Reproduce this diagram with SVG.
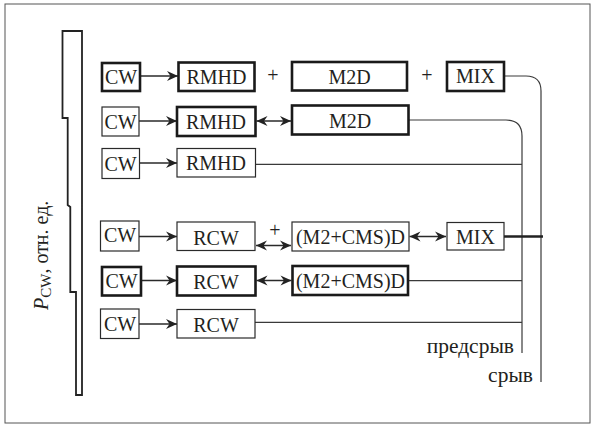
<svg xmlns="http://www.w3.org/2000/svg" width="595" height="426" viewBox="0 0 595 426">
<defs>
<marker id="ah" markerUnits="userSpaceOnUse" viewBox="-12 -6 13 12" refX="0" refY="0" markerWidth="13" markerHeight="12" orient="auto-start-reverse">
<path d="M0,0 L-11,-5 L-7.5,0 L-11,5 Z" fill="#222"/>
</marker>
</defs>
<style>
text{font-family:'Liberation Serif','Times New Roman',serif;font-size:20px;fill:#231f20}
.t{text-anchor:middle}
.lbl{text-anchor:end;font-size:21.5px}
.thin{fill:#fff;stroke:#2a2a2a;stroke-width:1.2}
.thick{fill:#fff;stroke:#1a1a1a;stroke-width:2.6}
.ln{fill:none;stroke:#3a3a3a;stroke-width:1.2}
.ar{fill:none;stroke:#2a2a2a;stroke-width:1.3;marker-end:url(#ah)}
.dar{fill:none;stroke:#2a2a2a;stroke-width:1.3;marker-end:url(#ah);marker-start:url(#ah)}
.plus{text-anchor:middle}
</style>
<rect x="5" y="4" width="585" height="419" fill="#fff" stroke="#555" stroke-width="1"/>

<g id="profile">
<path d="M62.5,31 L82,31 L82,395 L76,395 L76,292 L70.3,292 L70.3,207 L67.7,205 L67.7,118 L62.5,118 Z" fill="none" stroke="#222" stroke-width="1.8"/>
</g>
<g id="axis-label">
<text font-size="21" transform="translate(48,310) rotate(-90)"><tspan font-style="italic">P</tspan><tspan font-size="15" dy="3">CW</tspan><tspan dy="-3">, отн. ед.</tspan></text>
</g>

<g id="connectors">
<line class="ar" x1="140" y1="76" x2="178" y2="76"/>
<line class="ar" x1="139" y1="121" x2="177" y2="121"/>
<line class="ar" x1="140" y1="163" x2="177" y2="163"/>
<line class="ar" x1="139" y1="236.5" x2="177" y2="236.5"/>
<line class="ar" x1="141" y1="280.5" x2="177" y2="280.5"/>
<line class="ar" x1="139" y1="324" x2="177" y2="324"/>
<line class="dar" x1="256.5" y1="121" x2="291" y2="121"/>
<line class="dar" x1="256" y1="245.5" x2="291" y2="245.5"/>
<line class="dar" x1="409.5" y1="236.5" x2="446" y2="236.5"/>
<line class="dar" x1="256.5" y1="280.5" x2="291.5" y2="280.5"/>
<path class="ln" d="M504,76 L526,76 Q541,76 541,91 L541,382"/>
<path class="ln" d="M408.5,120 L506,120 Q522,120 522,136 L522,353"/>
<line class="ln" x1="255.5" y1="164.3" x2="522" y2="164.3"/>
<line class="ln" x1="408.5" y1="280.7" x2="522" y2="280.7"/>
<line class="ln" x1="255" y1="322.3" x2="522" y2="322.3"/>
<line x1="504" y1="236.5" x2="543" y2="236.5" stroke="#222" stroke-width="2.5"/>
</g>

<g id="row1">
<g id="cw1"><rect class="thick" x="102" y="63" width="38" height="28"/><text class="t" x="121" y="84">CW</text></g>
<g id="rmhd1"><rect class="thick" x="178.5" y="62.5" width="76" height="28.5"/><text class="t" x="216.5" y="84">RMHD</text></g>
<text class="plus" x="273" y="82">+</text>
<g id="m2d1"><rect class="thick" x="292" y="62" width="115" height="28.5"/><text class="t" x="349.5" y="83.5">M2D</text></g>
<text class="plus" x="427" y="82">+</text>
<g id="mix1"><rect class="thick" x="447" y="62" width="57" height="29"/><text class="t" x="475.5" y="83">MIX</text></g>
</g>

<g id="row2">
<g id="cw2"><rect class="thin" x="102" y="107" width="37" height="29"/><text class="t" x="120.5" y="129">CW</text></g>
<g id="rmhd2"><rect class="thick" x="177" y="107" width="78.5" height="29"/><text class="t" x="216" y="129">RMHD</text></g>
<g id="m2d2"><rect class="thick" x="292" y="105.5" width="116.5" height="29"/><text class="t" x="350" y="127.5">M2D</text></g>
</g>

<g id="row3">
<g id="cw3"><rect class="thin" x="102" y="148.5" width="37.5" height="30"/><text class="t" x="120.5" y="171">CW</text></g>
<g id="rmhd3"><rect class="thin" x="177" y="148.5" width="78.5" height="28.5"/><text class="t" x="216" y="169.5">RMHD</text></g>
</g>

<g id="row4">
<g id="cw4"><rect class="thin" x="100.5" y="221" width="38.5" height="30"/><text class="t" x="120" y="242">CW</text></g>
<g id="rcw4"><rect class="thin" x="177" y="222" width="78" height="28.5"/><text class="t" x="216" y="245">RCW</text></g>
<text class="plus" x="275" y="237">+</text>
<g id="m2cms4"><rect class="thin" x="292" y="222" width="117" height="29"/><text class="t" x="350.5" y="243.5">(M2+CMS)D</text></g>
<g id="mix4"><rect class="thin" x="447" y="222.5" width="57" height="27.5"/><text class="t" x="475.5" y="243.5">MIX</text></g>
</g>

<g id="row5">
<g id="cw5"><rect class="thick" x="102" y="267" width="39" height="28.5"/><text class="t" x="121.5" y="288">CW</text></g>
<g id="rcw5"><rect class="thick" x="177" y="266.5" width="78.5" height="29"/><text class="t" x="216" y="288.5">RCW</text></g>
<g id="m2cms5"><rect class="thick" x="292.5" y="266" width="115.5" height="29"/><text class="t" x="350.5" y="287.5">(M2+CMS)D</text></g>
</g>

<g id="row6">
<g id="cw6"><rect class="thin" x="100.5" y="309" width="38.5" height="29.5"/><text class="t" x="120" y="330.5">CW</text></g>
<g id="rcw6"><rect class="thin" x="177" y="309.5" width="78" height="28.5"/><text class="t" x="216" y="332">RCW</text></g>
</g>

<g id="labels">
<text class="lbl" x="514" y="353">предсрыв</text>
<text class="lbl" x="533" y="382">срыв</text>
</g>
</svg>
